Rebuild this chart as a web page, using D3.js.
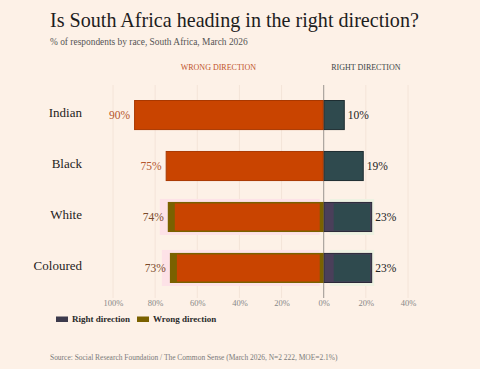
<!DOCTYPE html>
<html>
<head>
<meta charset="utf-8">
<script src="https://cdn.jsdelivr.net/npm/d3@7"></script>
<style>
html,body{margin:0;padding:0;background:#fdf1e7;}
svg{display:block;}
text{font-family:"Liberation Serif","DejaVu Serif",serif;}
</style>
</head>
<body>
<svg id="chart" width="480" height="369"></svg>
<script>
const categories = ["Indian", "Black", "White", "Coloured"];
const wrongValues = [90, 75, 74, 73];
const rightValues = [10, 19, 23, 23];
const highlighted = ["White", "Coloured"];
const tickValues = [-100, -80, -60, -40, -20, 0, 20, 40];
const tickLabels = ["100%", "80%", "60%", "40%", "20%", "0%", "20%", "40%"];
const legendItems = ["Right direction", "Wrong direction"];

const title = "Is South Africa heading in the right direction?";
const subtitle = "% of respondents by race, South Africa, March 2026";
const source = "Source: Social Research Foundation / The Common Sense (March 2026, N=2 222, MOE=2.1%)";

const C = {
  bg: "#fdf1e7",
  wrong: "#c94400",
  wrongEdge: "#a93800",
  right: "#2f4a4e",
  rightEdge: "#1e2d31",
  legendRight: "#3c3a4c",
  legendWrong: "#7a6100",
  pink: "#fde2e7",
  green: "#eef2e2"
};

const svg = d3.select("#chart");
svg.append("rect").attr("width", 480).attr("height", 369).attr("fill", C.bg);

function fitText(sel, target) {
  const w = sel.node().getComputedTextLength();
  const fs = parseFloat(sel.attr("font-size"));
  sel.attr("font-size", fs * target / w);
}

// Title
const t = svg.append("text").attr("x", 50).attr("y", 27).attr("font-size", 20)
  .attr("fill", "#1d1d1d").text(title);
fitText(t, 369);
const st = svg.append("text").attr("x", 50).attr("y", 45).attr("font-size", 9)
  .attr("fill", "#555").text(subtitle);
fitText(st, 198);

const x = d3.scaleLinear().domain([-100, 40]).range([113, 408]);
const y = d3.scaleBand().domain(categories).range([100, 283]).paddingInner(0.41).paddingOuter(0);

// Column headers
svg.append("text").attr("x", (x(-100) + x(0)) / 2).attr("y", 70).attr("text-anchor", "middle")
  .attr("font-size", 8).attr("fill", "#c0532a").text("WRONG DIRECTION");
svg.append("text").attr("x", (x(0) + x(40)) / 2).attr("y", 70).attr("text-anchor", "middle")
  .attr("font-size", 8).attr("fill", "#3a4446").text("RIGHT DIRECTION");

// faint gridlines
svg.append("g").selectAll("line").data(tickValues.filter(v => v !== 0)).join("line")
  .attr("x1", d => x(d)).attr("x2", d => x(d)).attr("y1", 85).attr("y2", 298)
  .attr("stroke", "#f4e4d8").attr("stroke-width", 1);

const rows = categories.map((c, i) => ({cat: c, wrong: wrongValues[i], right: rightValues[i], hl: highlighted.includes(c)}));

// highlight backgrounds
const hlRows = rows.filter(d => d.hl);
svg.append("g").selectAll("rect").data(hlRows).join("rect")
  .attr("x", d => x(-d.wrong) - 8).attr("width", d => x(0) - 4 - (x(-d.wrong) - 8))
  .attr("y", d => y(d.cat) - 3).attr("height", y.bandwidth() + 6)
  .attr("fill", C.pink);
svg.append("g").selectAll("rect").data(hlRows).join("rect")
  .attr("x", x(0) + 6).attr("width", d => x(d.right) - x(0) - 4)
  .attr("y", d => y(d.cat) - 3).attr("height", y.bandwidth() + 6)
  .attr("fill", C.green);

// zero line
svg.append("line").attr("x1", x(0)).attr("x2", x(0)).attr("y1", 85).attr("y2", 298)
  .attr("stroke", "#9a9590").attr("stroke-width", 1);

const bars = svg.append("g");
rows.forEach(d => {
  const y0 = y(d.cat), h = y.bandwidth();
  if (d.hl) {
    // wrong: olive underlay + orange inset
    bars.append("rect").attr("x", x(-d.wrong)).attr("y", y0).attr("width", x(0) - x(-d.wrong)).attr("height", h)
      .attr("fill", C.legendWrong);
    bars.append("rect").attr("x", x(-d.wrong) + 7).attr("y", y0 + 1.5).attr("width", x(0) - 4 - (x(-d.wrong) + 7)).attr("height", h - 3)
      .attr("fill", C.wrong);
    // right: purple underlay + teal inset
    bars.append("rect").attr("x", x(0) + 0.5).attr("y", y0 + 0.5).attr("width", x(d.right) - x(0) - 1).attr("height", h - 1)
      .attr("fill", "#4a3f5a").attr("stroke", "#2a2838").attr("stroke-width", 1);
    bars.append("rect").attr("x", x(0) + 10).attr("y", y0 + 1.5).attr("width", x(d.right) - x(0) - 12).attr("height", h - 3)
      .attr("fill", C.right);
  } else {
    bars.append("rect").attr("x", x(-d.wrong) + 0.5).attr("y", y0 + 0.5).attr("width", x(0) - x(-d.wrong) - 1).attr("height", h - 1)
      .attr("fill", C.wrong).attr("stroke", C.wrongEdge).attr("stroke-width", 1);
    bars.append("rect").attr("x", x(0) + 0.5).attr("y", y0 + 0.5).attr("width", x(d.right) - x(0) - 1).attr("height", h - 1)
      .attr("fill", C.right).attr("stroke", C.rightEdge).attr("stroke-width", 1);
  }
});

// category labels
svg.append("g").selectAll("text").data(rows).join("text")
  .attr("x", 82).attr("y", d => y(d.cat) + y.bandwidth() / 2 + 2)
  .attr("text-anchor", "end").attr("font-size", 13).attr("fill", "#1d1d1d").text(d => d.cat);

// value labels
svg.append("g").selectAll("text").data(rows).join("text")
  .attr("x", d => x(-d.wrong) - 4).attr("y", d => y(d.cat) + y.bandwidth() / 2 + 4)
  .attr("text-anchor", "end").attr("font-size", 11.5)
  .attr("fill", d => d.hl ? "#7a4a2a" : "#b4552c").text(d => d.wrong + "%");
svg.append("g").selectAll("text").data(rows).join("text")
  .attr("x", d => x(d.right) + 3).attr("y", d => y(d.cat) + y.bandwidth() / 2 + 4)
  .attr("text-anchor", "start").attr("font-size", 11.5).attr("fill", "#222").text(d => d.right + "%");

// axis
const axis = d3.axisBottom(x).tickValues(tickValues).tickSize(0).tickPadding(0)
  .tickFormat((d, i) => tickLabels[i]);
const ag = svg.append("g").attr("transform", "translate(0,298)").call(axis);
ag.select(".domain").remove();
ag.selectAll("text").attr("font-size", 8.5).attr("fill", "#888").attr("dy", "0.9em")
  .style("font-family", '"Liberation Serif", serif');

// legend
const legendColors = [C.legendRight, C.legendWrong];
const legendX = [56, 137];
const lg = svg.append("g");
legendItems.forEach((name, i) => {
  lg.append("rect").attr("x", legendX[i]).attr("y", 316.5).attr("width", 12).attr("height", 5.5)
    .attr("fill", legendColors[i]);
  lg.append("text").attr("x", legendX[i] + 16).attr("y", 322).attr("font-size", 9)
    .attr("font-weight", "bold").attr("fill", "#2a2a2a").text(name);
});

// source
const so = svg.append("text").attr("x", 50).attr("y", 360).attr("font-size", 7.5)
  .attr("fill", "#7a7a7a").text(source);
fitText(so, 288);
</script>
</body>
</html>
